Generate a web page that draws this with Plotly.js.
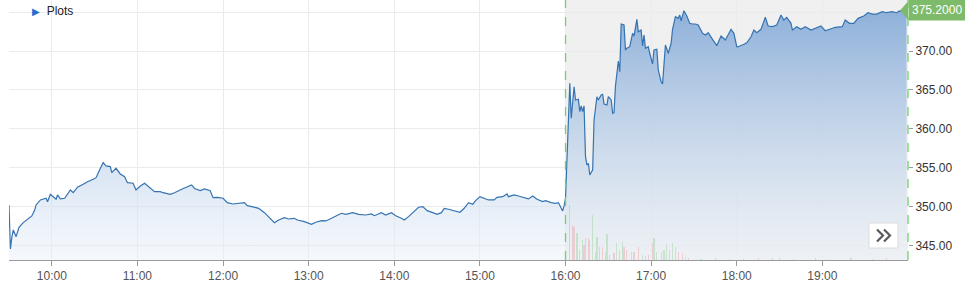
<!DOCTYPE html>
<html>
<head>
<meta charset="utf-8">
<script src="https://cdn.plot.ly/plotly-3.0.1.min.js"></script>
<style>
  html, body { margin: 0; padding: 0; background: #fff; }
  #chart { width: 965px; height: 287px; }
</style>
</head>
<body>
<div id="chart"></div>
<script>
// ---- Data ----
const day = '2024-01-02 ';

const priceTimes = [
  '09:30','09:31','09:32','09:33','09:35','09:37','09:40','09:43','09:46','09:48','09:49','09:52','09:54','09:56','09:57','09:59',
  '10:01','10:03','10:04','10:06','10:09','10:13','10:15','10:18','10:22','10:25','10:29','10:31','10:34','10:36','10:38','10:41',
  '10:42','10:45','10:48','10:51','10:53','10:57','10:59','11:02','11:05','11:09','11:12','11:16','11:18','11:23','11:26','11:31',
  '11:34','11:38','11:40','11:44','11:47','11:51','11:53','11:56','12:00','12:03','12:07','12:11','12:15','12:17','12:22','12:25',
  '12:29','12:32','12:36','12:39','12:43','12:46','12:50','12:52','12:57','13:02','13:05','13:09','13:12','13:16','13:19','13:23',
  '13:26','13:31','13:35','13:40','13:44','13:46','13:51','13:54','13:58','14:01','14:05','14:07','14:10','14:14','14:17','14:20',
  '14:23','14:27','14:30','14:33','14:35','14:38','14:42','14:46','14:49','14:52','14:55','14:57','15:00','15:03','15:06','15:10',
  '15:12','15:16','15:19','15:20','15:24','15:27','15:31','15:34','15:37','15:40','15:44','15:46','15:50','15:53','15:55','15:58',
  '15:59','16:00',
  '16:03','16:04','16:06','16:07','16:09','16:10','16:11','16:12','16:13','16:14','16:15','16:16','16:17','16:19','16:20','16:22',
  '16:23','16:25','16:26','16:27','16:29','16:30','16:32','16:33','16:34','16:35','16:37','16:38','16:39','16:41','16:42','16:43',
  '16:45','16:47','16:48','16:50','16:51','16:53','16:54','16:55','16:56','16:58','16:59','17:01','17:02','17:04','17:05','17:07',
  '17:08','17:09','17:10','17:12','17:14','17:15','17:17','17:19','17:20','17:21','17:23','17:25','17:27','17:29','17:31','17:33',
  '17:36','17:38','17:40','17:43','17:46','17:49','17:52','17:56','17:58','18:00','18:01','18:05','18:07','18:10','18:12','18:14',
  '18:17','18:20','18:22','18:25','18:28','18:31','18:33','18:35','18:38','18:39','18:42','18:45','18:48','18:52','18:55','18:59',
  '19:02','19:06','19:09','19:14','19:16','19:19','19:22','19:25','19:29','19:32','19:35','19:38','19:42','19:45','19:49','19:52',
  '19:54','19:57','19:59'
];

const priceValues = [
  350.26,344.62,346.12,347.05,346.19,347.40,347.99,348.46,348.85,349.62,350.26,350.90,350.99,351.12,350.68,351.63,
  351.32,350.99,351.54,351.03,351.12,352.18,351.83,352.53,352.91,353.24,353.55,353.76,354.96,355.68,355.26,355.17,
  354.40,354.96,354.23,353.88,353.12,353.04,352.18,352.69,353.04,352.40,351.96,351.96,351.83,351.63,351.83,352.27,
  352.50,352.82,352.37,352.09,352.31,352.09,351.19,351.24,351.12,350.55,350.38,350.47,350.55,350.17,349.96,349.83,
  349.27,348.68,347.99,348.33,348.63,348.46,348.55,348.33,348.12,347.78,348.04,348.24,348.21,348.55,348.85,349.19,
  349.06,349.27,349.06,348.97,349.10,348.88,349.27,348.97,349.27,348.88,348.55,348.33,348.76,349.40,349.96,350.04,
  349.53,349.27,349.06,349.27,349.83,349.71,349.53,349.32,349.83,350.55,350.35,350.81,351.32,351.12,350.90,350.90,
  351.24,351.32,351.67,351.32,351.54,351.41,351.24,351.03,351.41,350.99,350.68,350.81,350.55,350.47,350.55,349.49,
  350.13,351.12,
  365.86,361.37,365.42,363.72,363.81,362.22,362.95,362.22,362.95,356.45,355.38,355.60,354.10,354.74,361.15,364.14,
  363.72,364.36,364.45,363.21,363.08,364.14,363.72,362.01,362.09,365.51,368.72,367.35,373.46,373.33,370.13,370.35,
  370.55,372.27,371.92,374.06,372.47,372.69,370.64,372.05,370.35,370.55,369.71,368.33,370.13,370.22,367.56,366.06,
  365.77,368.63,370.77,369.71,370.99,372.78,374.40,374.19,374.62,373.88,375.17,374.49,373.55,373.46,373.46,373.33,
  372.27,372.05,372.35,371.50,370.68,371.92,371.41,372.78,372.27,370.55,370.55,370.86,371.06,371.83,372.69,372.35,
  372.78,374.32,373.21,373.12,373.33,374.62,373.97,374.32,373.55,372.69,373.12,372.78,373.12,372.69,372.91,373.21,
  372.60,372.91,373.04,373.12,373.97,373.55,373.55,374.19,374.49,374.91,374.74,374.74,375.04,374.91,375.04,374.91,
  375.13,375.04,375.20
];

const lastPrice = 375.20;

// after-hours volume (thousand shares), 1 = up (green), 0 = down (red)
const volTimes = [
  '16:03','16:05','16:06','16:08','16:10','16:12','16:13','16:14','16:16','16:17','16:19','16:21','16:22','16:24','16:26','16:28',
  '16:29','16:31','16:34','16:36','16:38','16:40','16:41','16:43','16:46','16:48','16:51','16:54','16:56','16:58','17:01','17:02',
  '17:04','17:07','17:09','17:11','17:13','17:15','17:17','17:19','17:22','17:24','17:26','17:35','17:45','17:55','18:05','18:15',
  '18:25','18:30','18:40','18:55','19:05','19:20','19:35','19:45'
];
const volValues = [
  55,35,33,27,10,20,15,22,22,20,45,8,23,13,13,8,
  26,5,7,17,10,18,13,10,8,8,13,5,4,5,17,22,
  8,8,10,16,10,17,13,8,7,3,2,1,2,1,1,2,
  2,2,1,2,1,2,1,2
];
const volUp = [
  1,0,0,1,0,1,0,0,0,0,1,1,1,0,0,1,
  1,0,0,1,1,1,0,0,1,0,0,1,0,0,0,1,
  1,0,1,1,1,1,1,0,0,0,0,1,0,1,0,0,
  1,0,1,1,0,1,1,0
];

// axis ticks
const xTickLabels = ['10:00','11:00','12:00','13:00','14:00','15:00','16:00','17:00','18:00','19:00'];
const yTickValues = [345, 350, 355, 360, 365, 370, 375];
const yTickLabels = ['345.00','350.00','355.00','360.00','365.00','370.00',''];
const sessionBreak = '16:00';
const xStart = '09:30';
const xEnd = '20:00';

// ---- Build chart ----
const fontFam = 'Liberation Sans, Arial, sans-serif';
const green = '#6fd36a';
const btnX = 0.9733, btnY = 0.094;

const bars = {
  type: 'bar',
  x: volTimes.map(t => day + t),
  y: volValues,
  yaxis: 'y2',
  width: 50000,
  marker: {
    color: volUp.map(u => u ? 'rgba(120,200,120,0.32)' : 'rgba(235,140,140,0.34)'),
    line: { width: 0 }
  },
  hoverinfo: 'skip',
  showlegend: false
};

const area = {
  type: 'scatter',
  mode: 'lines',
  x: priceTimes.map(t => day + t),
  y: priceValues,
  line: { color: '#3573b1', width: 1.2 },
  fill: 'tozeroy',
  fillgradient: {
    type: 'vertical',
    start: 343.2,
    stop: 376.54,
    colorscale: [[0, 'rgba(235,242,250,0.5)'], [1, 'rgba(122,163,212,0.88)']]
  },
  showlegend: false,
  hoverinfo: 'x+y'
};

const layout = {
  width: 965,
  height: 287,
  margin: { l: 9, r: 57, t: 0, b: 27, pad: 0 },
  paper_bgcolor: '#ffffff',
  plot_bgcolor: '#ffffff',
  showlegend: false,
  bargap: 0,
  font: { family: fontFam, size: 12, color: '#333' },
  xaxis: {
    type: 'date',
    range: [day + xStart, day + xEnd],
    tickmode: 'array',
    tickvals: xTickLabels.map(t => day + t),
    ticktext: xTickLabels,
    showgrid: true,
    gridcolor: '#ebebeb',
    gridwidth: 1,
    showline: true,
    linecolor: '#9a9a9a',
    linewidth: 1,
    ticks: 'outside',
    ticklen: 5,
    tickcolor: '#9a9a9a',
    tickfont: { family: fontFam, size: 12, color: '#555' },
    zeroline: false,
    fixedrange: true
  },
  yaxis: {
    side: 'right',
    range: [343.2, 376.54],
    tickmode: 'array',
    tickvals: yTickValues,
    ticktext: yTickLabels,
    showgrid: true,
    gridcolor: '#ebebeb',
    showline: false,
    ticks: 'outside',
    ticklen: 4,
    tickcolor: '#9a9a9a',
    tickfont: { family: fontFam, size: 12, color: '#333' },
    zeroline: false,
    fixedrange: true
  },
  yaxis2: {
    overlaying: 'y',
    side: 'right',
    range: [0, 260],
    visible: false,
    showgrid: false,
    zeroline: false,
    fixedrange: true
  },
  shapes: [
    { type: 'rect', xref: 'x', yref: 'paper', x0: day + sessionBreak, x1: day + xEnd, y0: 0, y1: 1,
      fillcolor: '#f0f0f0', line: { width: 0 }, layer: 'below' },
    { type: 'line', xref: 'x', yref: 'paper', x0: day + sessionBreak, x1: day + sessionBreak, y0: 0, y1: 1,
      line: { color: green, width: 1.3, dash: 'dash' }, layer: 'above' },
    { type: 'line', xref: 'paper', yref: 'paper', x0: 1, x1: 1, y0: 0, y1: 1,
      line: { color: green, width: 1.3, dash: 'dash' }, layer: 'above' },
    { type: 'path', xref: 'paper', yref: 'y', xsizemode: 'pixel', ysizemode: 'pixel',
      xanchor: 1, yanchor: lastPrice, path: 'M -8 0 L 0 9 L 0 -9 Z',
      fillcolor: '#7dbb6b', line: { width: 0 }, layer: 'above' },
    // scroll button
    { type: 'rect', xref: 'paper', yref: 'paper', xsizemode: 'pixel', ysizemode: 'pixel',
      xanchor: btnX, yanchor: btnY, x0: -15, x1: 14, y0: -12.5, y1: 12.5,
      fillcolor: '#ffffff', line: { color: '#dcdcdc', width: 1 }, layer: 'above' },
    { type: 'path', xref: 'paper', yref: 'paper', xsizemode: 'pixel', ysizemode: 'pixel',
      xanchor: btnX, yanchor: btnY, path: 'M -7 -6 L -1 0 L -7 6 M 0 -6 L 6 0 L 0 6',
      line: { color: '#5a5a5a', width: 2.2 }, layer: 'above' }
  ],
  annotations: [
    { xref: 'paper', yref: 'paper', x: 0.0234, y: 0.958, xanchor: 'left', yanchor: 'middle',
      text: '<span style="color:#1f6fd1;font-size:10px">&#9654;</span>  Plots',
      showarrow: false, font: { family: fontFam, size: 12, color: '#222' } },
    { xref: 'paper', yref: 'y', x: 1, y: lastPrice, xanchor: 'left', yanchor: 'middle',
      text: lastPrice.toFixed(4), showarrow: false, bgcolor: '#7dbb6b', borderpad: 3,
      font: { family: fontFam, size: 12, color: '#ffffff' } }
  ]
};

Plotly.newPlot('chart', [area, bars], layout, { displayModeBar: false, staticPlot: true });
</script>
</body>
</html>
